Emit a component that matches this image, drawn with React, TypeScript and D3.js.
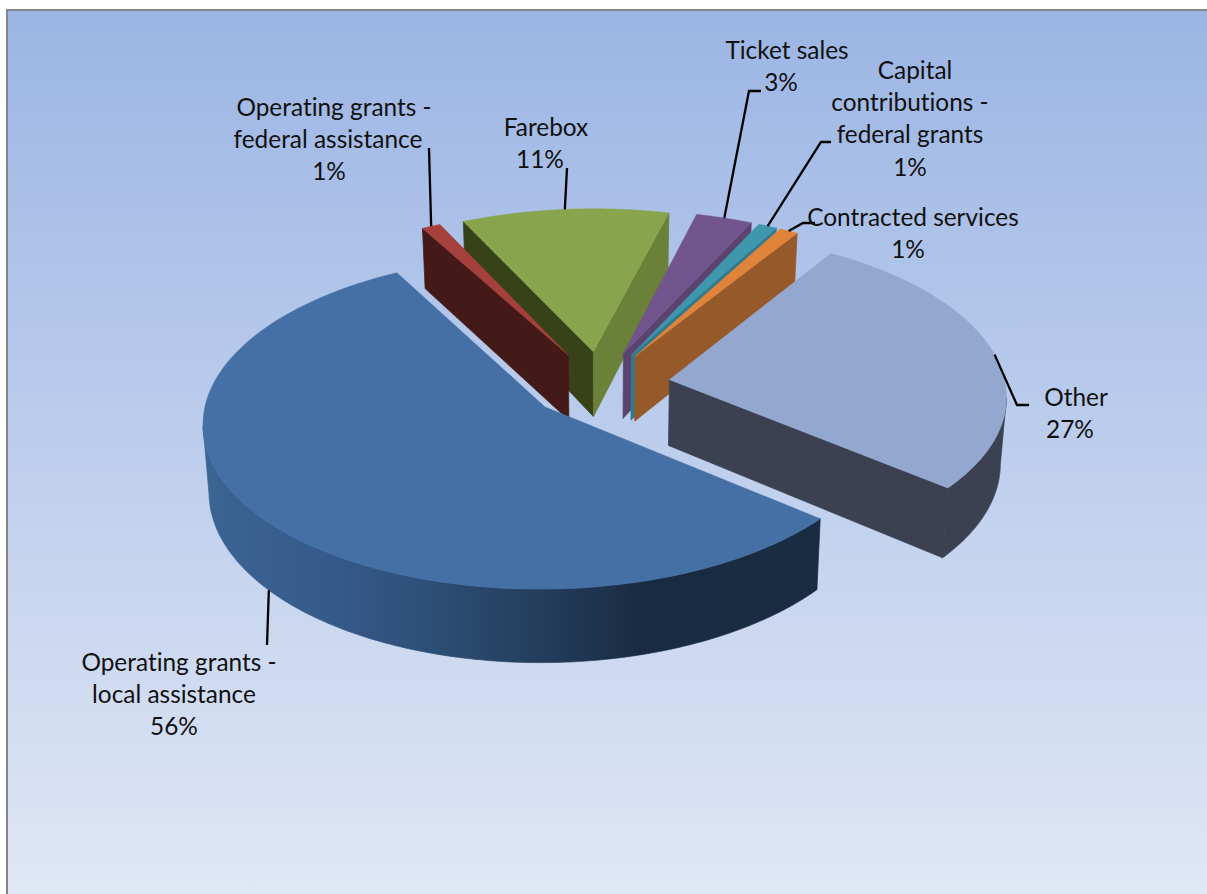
import React from "react";
import * as d3 from "d3";

// Revenue shares, clockwise from the front-right edge of the largest slice.
const categories = [
  "Operating grants - local assistance",
  "Operating grants - federal assistance",
  "Farebox",
  "Ticket sales",
  "Capital contributions - federal grants",
  "Contracted services",
  "Other",
];
const shares = [56, 1, 11, 3, 1, 1, 27];

const topColors = ["#4470a5", "#a5403d", "#88a54d", "#72558d", "#3f97ae", "#e0843a", "#94a7cf"];
const startWallColors = ["#3b4151", "#431a17", "#374219", "#5b4370", "#317a8c", "#95592a", "#3b4151"];
const endWallColors = ["#3b4151", "#431a17", "#6b8039", "#5b4370", "#317a8c", "#95592a", "#3b4151"];
const rimColors = ["url(#rimBlue)", "#431a17", "#6b8039", "#5b4370", "#317a8c", "#95592a", "#3b4151"];

// Stacking order: back slices first so nearer walls overlap them.
const paintOrder = [2, 1, 3, 4, 5, 6, 0];

// Label lines, where each one is centred, and the elbows of the leader lines.
const labelLines = [
  ["Operating grants -", "local assistance", "56%"],
  ["Operating grants -", "federal assistance", "1%"],
  ["Farebox", "11%"],
  ["Ticket sales", "3%"],
  ["Capital", "contributions -", "federal grants", "1%"],
  ["Contracted services", "1%"],
  ["Other", "27%"],
];
const labelCentres = [
  [179, 174, 174],
  [334, 328, 329],
  [546, 540],
  [787, 781],
  [915, 910, 910, 910],
  [913, 908],
  [1076, 1070],
];
const labelFirstLine = [662, 107, 127, 50, 70, 217, 397];
const lineGap = 32.4;
const leaderElbows: [number, number][][] = [
  [[267, 645]],
  [[429, 148]],
  [[567, 168]],
  [[749, 91], [761, 91]],
  [[821, 142], [831, 142]],
  [[803, 223], [815, 223]],
  [[1017, 405], [1029, 405]],
];
const leaderOnFloor = [true, false, false, false, false, false, false];

// Pie plane seen through a simple perspective camera.
const centre = { x: 600, y: 385 };
const radiusX = 336;
const radiusY = 161.6;
const perspective = 0.09;
const thickness = 66;
const converge = 0.985;
const explode = 0.21;
const firstSliceAngle = 129.5;

type Pt = [number, number];
const project = (px: number, pz: number, floor = false): Pt => {
  const w = 1 - perspective * pz;
  const x = centre.x + (radiusX * px) / w;
  const y = centre.y + (radiusY * pz) / w;
  return floor ? [centre.x + (x - centre.x) * converge, y + thickness / w] : [x, y];
};

// Angles run clockwise from the far side of the plane.
const planePoint = (mid: number, a: number, r: number): Pt => [
  explode * Math.sin(mid) + r * Math.sin(a),
  -explode * Math.cos(mid) - r * Math.cos(a),
];

const toPath = d3.line<Pt>().x((d) => d[0]).y((d) => d[1]);
const closed = (pts: Pt[]) => toPath(pts) + "Z";
const rad = (deg: number) => (deg * Math.PI) / 180;

const pie = d3
  .pie<number>()
  .sort(null)
  .startAngle(rad(firstSliceAngle))
  .endAngle(rad(firstSliceAngle + 360));

const arcs = pie(shares);

const slices = arcs.map((arc, i) => {
  const mid = (arc.startAngle + arc.endAngle) / 2;
  const at = (a: number, r: number, floor = false) => {
    const [px, pz] = planePoint(mid, a, r);
    return project(px, pz, floor);
  };
  const steps = d3.range(0, 257).map((k) => arc.startAngle + ((arc.endAngle - arc.startAngle) * k) / 256);
  const apexTop = at(mid, 0);
  const apexFloor = at(mid, 0, true);
  const top = closed([apexTop, ...steps.map((a) => at(a, 1))]);

  const radialWall = (a: number) =>
    closed([apexTop, at(a, 1), at(a, 1, true), apexFloor]);
  const rimTop = at(arc.startAngle, 1);
  const rimEnd = at(arc.endAngle, 1);
  const startVisible = rimTop[0] < apexTop[0];
  const endVisible = rimEnd[0] > apexTop[0];

  // The rim shows only where the top edge runs right to left on screen,
  // which keeps the band from folding back over itself at the silhouette.
  const nearSteps = steps.filter((a) => at(a + 0.002, 1)[0] < at(a, 1)[0]);
  const rim = nearSteps.length
    ? closed([...nearSteps.map((a) => at(a, 1)), ...[...nearSteps].reverse().map((a) => at(a, 1, true))])
    : null;

  const anchor = leaderOnFloor[i] ? at(mid, 1, true) : at(mid, 1);
  return {
    i,
    top,
    rim,
    startWall: startVisible ? radialWall(arc.startAngle) : null,
    endWall: endVisible ? radialWall(arc.endAngle) : null,
    leader: toPath([anchor, ...leaderElbows[i]]) as string,
  };
});

export default function App() {
  return (
    <svg
      width={1207}
      height={894}
      viewBox="0 0 1207 894"
      style={{ position: "absolute", left: 0, top: 0, display: "block", background: "#fff" }}
    >
      <defs>
        <linearGradient id="panel" gradientUnits="userSpaceOnUse" x1={0} y1={10} x2={0} y2={894}>
          <stop offset="0" stopColor="#9bb5e4" />
          <stop offset="1" stopColor="#e0e7f5" />
        </linearGradient>
        <linearGradient id="rimBlue" gradientUnits="userSpaceOnUse" x1={205} y1={0} x2={811} y2={0}>
          <stop offset="0" stopColor="#3b6593" />
          <stop offset="0.22" stopColor="#35598a" />
          <stop offset="0.4" stopColor="#2c4c72" />
          <stop offset="0.55" stopColor="#243e5c" />
          <stop offset="0.72" stopColor="#192b42" />
          <stop offset="1" stopColor="#1a2c41" />
        </linearGradient>
      </defs>
      <rect x={7} y={10} width={1300} height={1000} fill="url(#panel)" stroke="#868686" strokeWidth={2} />

      {paintOrder.map((i) => {
        const s = slices[i];
        return (
          <g key={categories[i]}>
            {/* Hairline strokes in the fill colour close seams between adjoining faces. */}
            {s.rim && <path d={s.rim} fill={rimColors[i]} stroke={rimColors[i]} strokeWidth={0.7} />}
            {s.startWall && <path d={s.startWall} fill={startWallColors[i]} stroke={startWallColors[i]} strokeWidth={0.7} />}
            {s.endWall && <path d={s.endWall} fill={endWallColors[i]} stroke={endWallColors[i]} strokeWidth={0.7} />}
            <path d={s.top} fill={topColors[i]} stroke={topColors[i]} strokeWidth={0.5} />
          </g>
        );
      })}

      {slices.map((s) => (
        <path key={s.i} d={s.leader} fill="none" stroke="#000" strokeWidth={2.3} />
      ))}

      <g
        fontFamily="Lato, sans-serif"
        fontSize={24.4}
        fill="#111"
        textAnchor="middle"
        style={{ fontVariantLigatures: "none" }}
      >
        {labelLines.map((lines, i) => (
          <text key={categories[i]}>
            {lines.map((line, k) => (
              <tspan key={k} x={labelCentres[i][k]} y={labelFirstLine[i] + k * lineGap + 8.5}>
                {line}
              </tspan>
            ))}
          </text>
        ))}
      </g>
    </svg>
  );
}
